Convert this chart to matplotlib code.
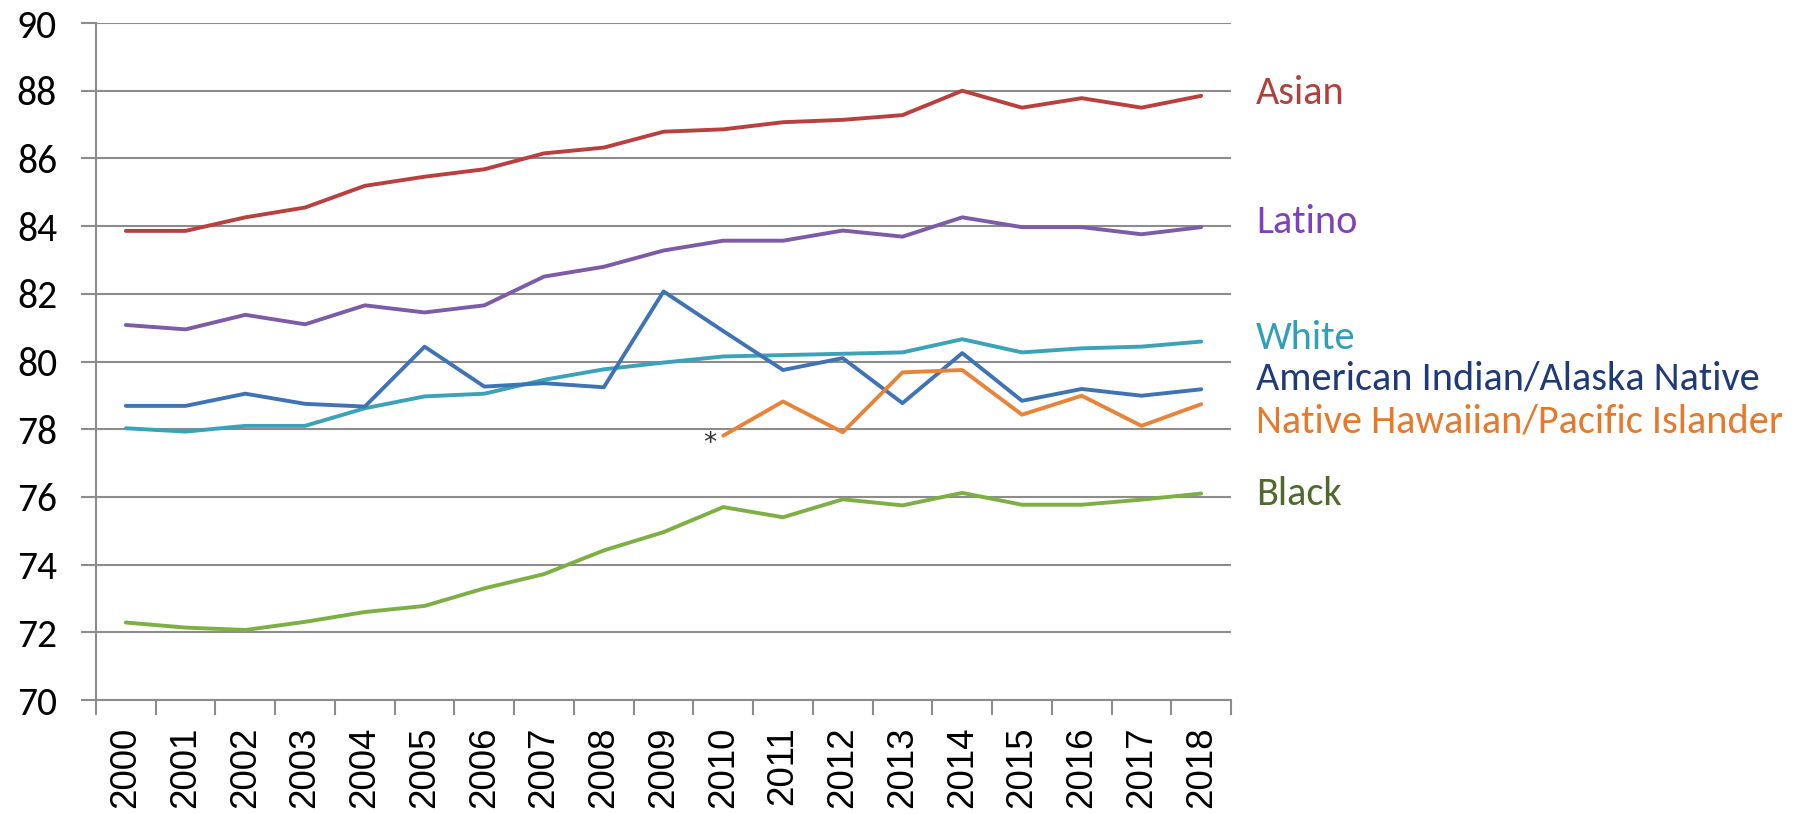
import matplotlib
matplotlib.use('Agg')
import matplotlib.pyplot as plt
import matplotlib.transforms as mtransforms
import numpy as np

years = [str(y) for y in range(2000, 2019)]

asian = [83.86, 83.86, 84.26, 84.55, 85.19, 85.46, 85.68, 86.15, 86.32, 86.79,
         86.86, 87.07, 87.14, 87.28, 88.0, 87.5, 87.78, 87.5, 87.85]
latino = [81.08, 80.95, 81.38, 81.1, 81.66, 81.45, 81.66, 82.51, 82.8, 83.28,
          83.57, 83.57, 83.87, 83.69, 84.26, 83.97, 83.97, 83.76, 83.97]
white = [78.03, 77.93, 78.1, 78.1, 78.62, 78.97, 79.05, 79.46, 79.77, 79.97,
         80.15, 80.19, 80.23, 80.27, 80.66, 80.27, 80.39, 80.44, 80.59]
aian = [78.69, 78.69, 79.05, 78.75, 78.67, 80.44, 79.26, 79.36, 79.24, 82.07,
        80.9, 79.75, 80.1, 78.77, 80.25, 78.84, 79.19, 78.99, 79.18]
# no data before 2010
nhpi = [np.nan] * 10 + [77.81, 78.82, 77.91, 79.68, 79.75, 78.43, 78.99, 78.1, 78.74]
black = [72.29, 72.14, 72.07, 72.31, 72.6, 72.78, 73.3, 73.72, 74.42, 74.96,
         75.7, 75.4, 75.93, 75.75, 76.12, 75.77, 75.77, 75.92, 76.1]

series = [
    ('Asian', asian, '#b8403e', '#b0403e', 87.93),
    ('Latino', latino, '#7d5ba6', '#7f3fbf', 84.12),
    ('White', white, '#3ba3b8', '#31a0b6', 80.69),
    ('American Indian/Alaska Native', aian, '#3f73b3', '#1f3a78', 79.5),
    ('Native Hawaiian/Pacific Islander', nhpi, '#e8843a', '#e8782a', 78.24),
    ('Black', black, '#7eaf45', '#4f6a2c', 76.1),
]

fig = plt.figure(figsize=(18.08, 8.14), dpi=100)
ax = fig.add_axes([0.0531, 0.14, 0.6278, 0.8317])

x = np.arange(len(years))
grid_col = '#8c8c8c'

for name, vals, col, tcol, ly in series:
    ax.plot(x, vals, color=col, lw=2.8, solid_capstyle='round',
            solid_joinstyle='round', zorder=3)

ax.set_xlim(-0.5, len(years) - 0.5)
ax.set_ylim(70, 90)
ax.set_yticks(range(70, 91, 2))
ax.yaxis.grid(True, color=grid_col, lw=1.5)
ax.set_axisbelow(True)

for s in ['top', 'right']:
    ax.spines[s].set_visible(False)
for s in ['left', 'bottom']:
    ax.spines[s].set_color(grid_col)
    ax.spines[s].set_linewidth(1.5)

ax.set_xticks(x)
ax.set_xticklabels(years, rotation=90, fontsize=26.5, family='Liberation Sans')
ax.set_xticks(np.arange(-0.5, len(years)), minor=True)
ax.tick_params(axis='x', which='major', length=0, pad=19)
ax.tick_params(axis='x', which='minor', length=11, width=1.5, color=grid_col)
ax.tick_params(axis='y', length=11, width=1.5, color=grid_col, pad=17, labelsize=28.5)
for lab in ax.get_yticklabels():
    lab.set_family('Carlito')

# labels at the right of the plot
trans = mtransforms.blended_transform_factory(ax.transAxes, ax.transData)
for name, vals, col, tcol, ly in series:
    ax.text(1.022, ly, name, transform=trans, color=tcol, fontsize=29,
            family='Carlito', va='center', ha='left', clip_on=False)

ax.annotate('*', xy=(10, nhpi[10]), xytext=(-10, -6), textcoords='offset points',
            fontsize=19, color='#333333', ha='center', va='center')

fig.savefig('out.png', dpi=100)
